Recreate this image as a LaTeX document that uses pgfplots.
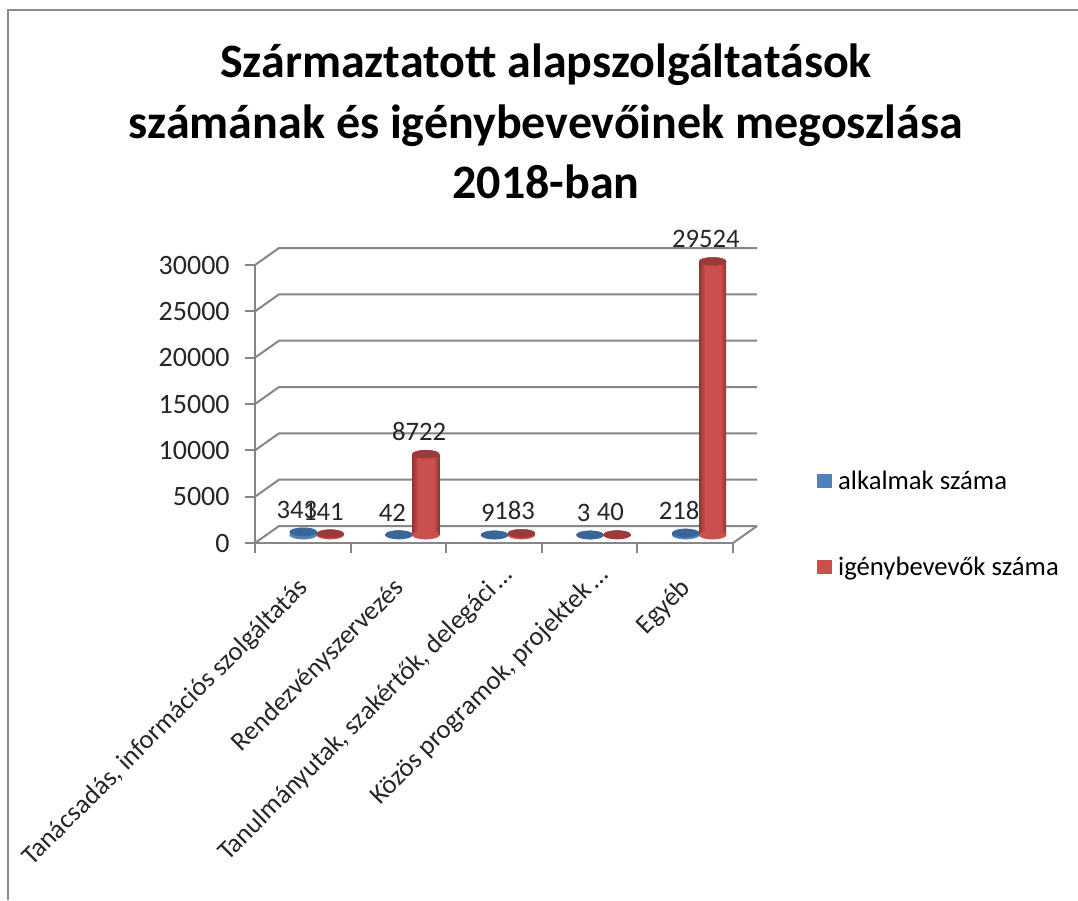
\documentclass[border=0pt]{standalone}
\usepackage{pgfplots}
\pgfplotsset{compat=1.18}
\usepackage{fontspec}
\setmainfont{Carlito}
\definecolor{framegray}{HTML}{8C8C8C}
\definecolor{axgray}{HTML}{868686}
\definecolor{bluemid}{HTML}{4F81BD}
\definecolor{blueedge}{HTML}{2F5F96}
\definecolor{bluetop}{HTML}{3A6599}
\definecolor{redmid}{HTML}{C9504D}
\definecolor{rededge}{HTML}{933432}
\definecolor{redtop}{HTML}{9B3A38}
\pgfdeclarehorizontalshading{cylblue}{100bp}{color(0bp)=(blueedge); color(25bp)=(blueedge); color(36bp)=(bluemid); color(64bp)=(bluemid); color(75bp)=(blueedge); color(100bp)=(blueedge)}
\pgfdeclarehorizontalshading{cylred}{100bp}{color(0bp)=(rededge); color(25bp)=(rededge); color(36bp)=(redmid); color(64bp)=(redmid); color(75bp)=(rededge); color(100bp)=(rededge)}
% 1 px of the reference = 0.75pt
\pgfplotstableread{
x alk igeny zero
0.5 343 141 0
1.5 42 8722 0
2.5 9 183 0
3.5 3 40 0
4.5 218 29524 0
}\datatable
\pgfkeys{/pgf/number format/1000 sep={}}
\tikzset{lbl/.style={font=\fontsize{20}{24}\selectfont, color=black!85, inner sep=0pt, xshift=#1, yshift=10pt, /pgf/number format/assume math mode=true}}
\pgfplotsset{
  base/.style={only marks, mark=*, mark size=10.1pt, forget plot},
}
\begin{document}
\begin{tikzpicture}
\path[use as bounding box] (0,0) rectangle (808.5pt,-675pt);
\draw[framegray, line width=1.6pt] (808.5pt,-7.5pt) -- (6pt,-7.5pt) -- (6pt,-675pt);
\node[align=center, font=\fontsize{36}{45.5}\selectfont\bfseries] at (409.5pt,-91pt)
  {Származtatott alapszolgáltatások\\számának és igénybevevőinek megoszlása\\2018-ban};
% front plane with ticks and walls
\begin{axis}[
  scale only axis, width=358.5pt, height=208.5pt,
  at={(191.25pt,-407.25pt)}, anchor=south west,
  xmin=0, xmax=5, ymin=0, ymax=30000,
  axis x line*=bottom, axis y line*=left,
  axis line style={axgray, line width=1.5pt, -},
  clip=false, scaled ticks=false,
  tick style={axgray, line width=1.5pt},
  tick align=outside, major tick length=7.5pt,
  xtick={0,...,5}, xticklabels={},
  ytick={0,5000,...,30000},
  yticklabel style={font=\fontsize{21}{25}\selectfont, color=black!85, xshift=-8pt, /pgf/number format/assume math mode=true},
  extra x ticks={0.5,1.5,2.5,3.5,4.5},
  extra x tick labels={{Tanácsadás, információs szolgáltatás},{Rendezvényszervezés},{Tanulmányutak, szakértők, delegáci\,…\kern-14pt},{Közös programok, projektek\,…\kern-14pt},{Egyéb}},
  extra x tick style={major tick length=0pt, tick style={draw=none},
    xticklabel style={font=\fontsize{20}{23}\selectfont, color=black!85, rotate=45, anchor=north east, inner sep=0pt, yshift=-14pt, xshift=-21pt}},
]
\pgfplotsinvokeforeach{0,5000,10000,15000,20000,25000,30000}{
  \draw[axgray, line width=1.5pt] (axis cs:0,#1) -- ++(18pt,12.75pt) -- ++(358.5pt,0pt);
}
\draw[axgray, line width=1.5pt] (axis cs:5,0) -- ++(18pt,12.75pt);
\end{axis}
% bars sit half way into the depth of the chart
\begin{axis}[
  scale only axis, width=358.5pt, height=208.5pt,
  at={(201.75pt,-401.25pt)}, anchor=south west,
  xmin=0, xmax=5, ymin=0, ymax=30000,
  hide axis, clip=false,
  bar width=20.2pt,
  legend style={draw=none, fill=none, at={(411pt,-34pt)}, anchor=south west,
    font=\fontsize{20}{24}\selectfont, row sep=45.25pt, inner sep=0pt},
  legend cell align=left,
  legend image code/.code={\fill[#1, draw=none] (2pt,-5.5pt) rectangle (13pt,5.5pt); \path (15.5pt,0pt);},
]
\addplot[base, mark options={xshift=-10.1pt, yscale=0.3, draw=bluemid, fill=bluemid}] table[x=x,y=zero] {\datatable};
% one plot per bar, so that each cylinder gets its own shading
\pgfplotsinvokeforeach{0,1,2,3,4}{
  \addplot[ybar, bar shift=-10.1pt, draw=none, shade, shading=cylblue, forget plot,
    restrict x to domain=#1.1:#1.9,
    nodes near coords, nodes near coords style={lbl=-15pt}] table[x=x,y=alk] {\datatable};
}
\addplot[base, mark options={xshift=-10.1pt, yscale=0.3, draw=bluetop, fill=bluetop}] table[x=x,y=alk] {\datatable};
\addplot[base, mark options={xshift=10.1pt, yscale=0.3, draw=redmid, fill=redmid}] table[x=x,y=zero] {\datatable};
\pgfplotsinvokeforeach{0,1,2,3,4}{
  \addplot[ybar, bar shift=10.1pt, draw=none, shade, shading=cylred, forget plot,
    restrict x to domain=#1.1:#1.9,
    nodes near coords, nodes near coords style={lbl=5pt}] table[x=x,y=igeny] {\datatable};
}
\addplot[base, mark options={xshift=10.1pt, yscale=0.3, draw=redtop, fill=redtop}] table[x=x,y=igeny] {\datatable};
\addlegendimage{fill=bluemid}
\addlegendentry{alkalmak száma}
\addlegendimage{fill=redmid}
\addlegendentry{igénybevevők száma}
\end{axis}
\end{tikzpicture}
\end{document}
